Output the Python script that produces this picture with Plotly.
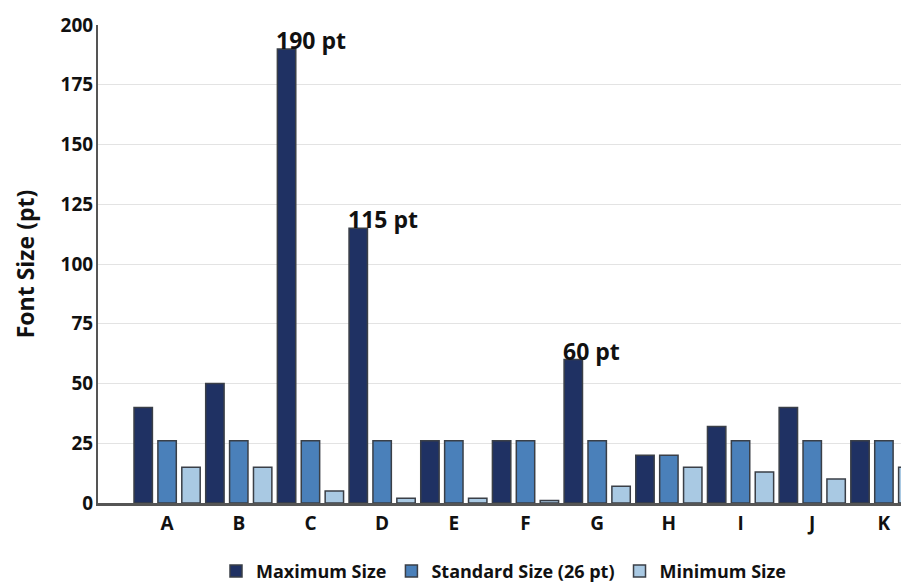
import plotly.graph_objects as go

categories = ["A", "B", "C", "D", "E", "F", "G", "H", "I", "J", "K"]
max_size = [40, 50, 190, 115, 26, 26, 60, 20, 32, 40, 26]
std_size = [26, 26, 26, 26, 26, 26, 26, 20, 26, 26, 26]
min_size = [15, 15, 5, 2, 2, 1, 7, 15, 13, 10, 15]
series_names = ["Maximum Size", "Standard Size (26 pt)", "Minimum Size"]
colors = ["#1f3163", "#4a80ba", "#a9c9e3"]
callouts = {"C": "190 pt", "D": "115 pt", "G": "60 pt"}

FONT = "Open Sans"
fig = go.Figure()
for name, vals, col in zip(series_names, [max_size, std_size, min_size], colors):
    fig.add_trace(go.Bar(
        x=categories, y=vals, name=name,
        marker=dict(color=col, line=dict(color="#3a3f47", width=1.5)),
    ))

for cat, txt in callouts.items():
    i = categories.index(cat)
    fig.add_annotation(
        x=i - 0.46, y=max_size[i], text=f"<b>{txt}</b>", showarrow=False,
        xanchor="left", yanchor="bottom", yshift=-9, xshift=-3,
        font=dict(family=FONT, size=23, color="#111"),
    )

fig.update_layout(
    width=901, height=577,
    margin=dict(l=90, r=0, t=17, b=82, autoexpand=False),
    plot_bgcolor="white", paper_bgcolor="white",
    barmode="group", bargap=0.0, bargroupgap=0.23,
    font=dict(family=FONT, size=16, color="#111"),
    showlegend=True,
    legend=dict(orientation="h", x=0.5, xanchor="center", y=-0.104, yanchor="top",
                font=dict(family=FONT, size=18, color="#111", weight="bold"),
                traceorder="normal", itemwidth=30),
    xaxis=dict(
        type="category", range=[-0.964, 10.35],
        showline=True, linecolor="#555", linewidth=2.5,
        ticks="", tickfont=dict(family=FONT, size=19, color="#111", weight="bold"),
        ticklabelstandoff=1,
        showgrid=False,
    ),
    yaxis=dict(
        range=[0, 200], dtick=25, showline=True, linecolor="#555", linewidth=2,
        showgrid=True, gridcolor="#e3e3e3", gridwidth=1, zeroline=False,
        ticks="", ticklabelstandoff=-1,
        tickfont=dict(family=FONT, size=19, color="#111", weight="bold"),
        title=dict(text="Font Size (pt)", standoff=20,
                   font=dict(family=FONT, size=23, color="#111", weight="bold")),
    ),
)

fig.write_html("out.html")
